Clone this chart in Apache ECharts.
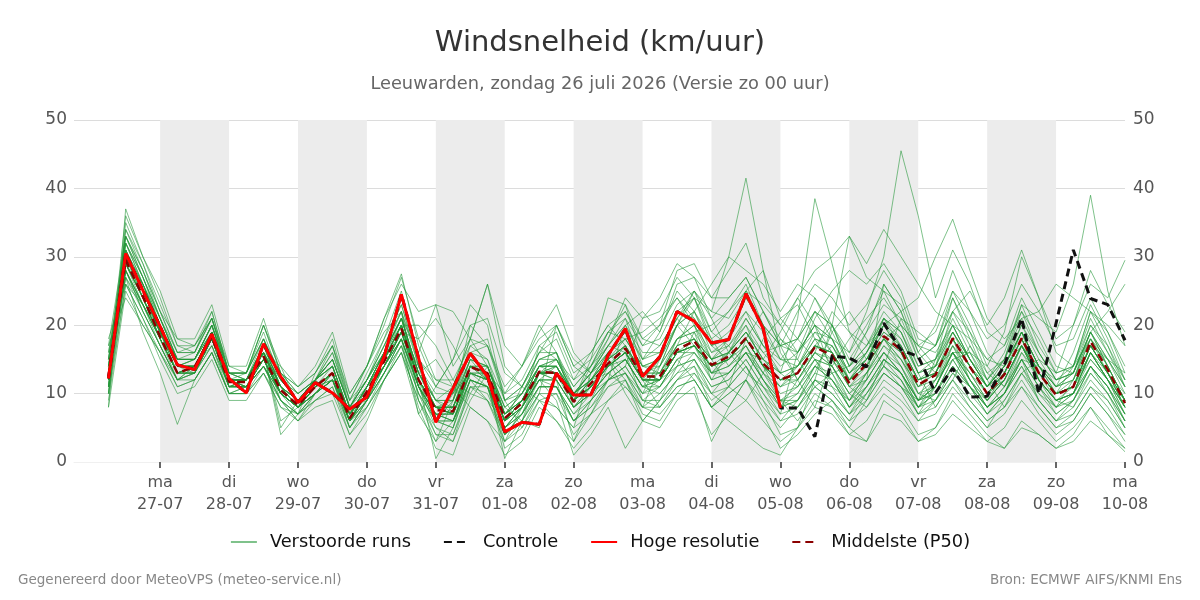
<!DOCTYPE html>
<html><head><meta charset="utf-8">
<script src="https://cdn.jsdelivr.net/npm/echarts@6/dist/echarts.min.js"></script>
<style>html,body{margin:0;padding:0;background:#fff}#c{width:1200px;height:600px}</style>
</head><body><div id="c"></div>
<script>
// Time axis: hours relative to ma 27-07 00:00, 6-hourly from zo 26-07 06:00
const startHour = -18, stepHours = 6, nPoints = 60;
const dayLabels = ['ma','di','wo','do','vr','za','zo','ma','di','wo','do','vr','za','zo','ma'];
const dateLabels = ['27-07','28-07','29-07','30-07','31-07','01-08','02-08','03-08','04-08','05-08','06-08','07-08','08-08','09-08','10-08'];
const shadedDays = [0, 2, 4, 6, 8, 10, 12]; // day index of grey bands

const hogeResolutie = [12.2,30.5,25.1,19.8,14.2,13.5,18.7,12.2,10.1,17.3,
 12.5,8.7,11.6,10.1,7.7,9.5,15.4,24.5,15.2,5.8,
 10.8,15.9,12.5,4.4,5.8,5.5,13.0,9.8,9.8,15.6,
 19.5,12.5,15.4,22.0,20.6,17.4,17.9,24.6,19.5,7.9];

const controle = [12.2,30.5,25.1,19.8,14.2,13.5,18.7,12.2,10.1,17.3,
 12.5,8.7,11.6,10.1,7.7,9.5,15.4,24.5,15.2,5.8,
 10.8,15.9,12.5,4.4,5.8,5.5,13.0,9.8,9.8,15.6,
 19.5,12.5,15.4,22.0,20.6,17.4,17.9,24.6,19.5,7.9,
 7.9,3.7,15.5,15.2,13.9,20.3,16.4,15.4,10.1,13.7,
 9.5,9.6,14.2,21.0,10.0,20.3,31.0,23.9,23.0,17.8];

const middelste = [12.5,29.5,24.2,18.3,13.0,13.9,18.3,11.7,11.7,15.4,
 10.5,8.3,11.0,13.0,6.4,10.3,14.7,19.5,12.0,7.6,
 7.4,13.9,13.0,6.4,8.6,13.2,13.0,8.8,11.5,14.4,
 16.6,12.5,12.5,16.4,17.7,14.2,15.4,18.1,14.4,12.0,
 13.0,16.8,15.6,11.5,14.4,18.4,16.4,11.3,12.7,18.1,
 13.9,10.0,12.8,18.1,13.0,9.8,11.0,17.6,13.5,8.6];

const run01 = [12,31,26,20,14,13,19,12,10,17, 12,9,12,10,8,9,15,24,15,6, 10,16,12,4,6,5,13,10,10,16, 19,12,15,22,21,17,18,25,20,8, 9,14,17,12,15,20,16,10,12,18, 12,8,11,16,12,9,10,16,12,7];
const run02 = [10,35,29,23,17,16,22,13,13,20, 13,10,12,17,8,13,18,23,14,9, 9,17,18,9,11,16,18,12,14,19, 22,17,18,23,25,21,24,27,22,17, 18,24,20,15,19,26,22,15,17,24, 18,12,15,23,17,13,14,22,17,11];
const run03 = [9,26,21,15,10,11,15,9,9,13, 8,7,9,10,4,7,12,16,9,4, 4,10,9,3,5,9,8,5,7,9, 11,8,8,11,12,8,10,12,9,6, 7,11,9,6,8,12,10,6,7,11, 8,5,7,11,7,4,6,10,7,3];
const run04 = [15,30,24,19,13,14,18,11,12,15, 10,8,10,13,6,11,14,19,11,7, 6,13,12,6,8,13,12,8,11,14, 16,12,13,17,22,26,30,41.5,28,16, 12,16,14,9,13,17,14,9,11,16, 12,8,11,17,12,9,10,16,12,7];
const run05 = [12,28,23,18,13,13,18,12,11,15, 11,8,11,12,7,10,15,20,12,8, 7,14,13,6,9,13,13,9,11,14, 16,13,12,16,18,14,16,19,15,13, 21,38.5,29,19,17,20,16,11,13,18, 14,10,13,18,13,10,11,17,13,9];
const run06 = [13,29,25,19,14,14,19,12,12,16, 10,8,11,13,6,10,14,19,12,8, 7,13,13,6,9,13,13,9,12,15, 17,13,12,17,18,15,16,19,15,12, 14,17,20,16,22,30,45.5,36,24,31, 26,19,17,22,16,12,13,19,14,9];
const run07 = [11,34,28,22,16,17,21,14,13,20, 13,11,13,17,9,14,21,26,22,23, 14,18,26,17,14,18,20,14,16,20, 22,18,17,21,24,19,22,26,20,17, 18,22,20,14,17,22,19,14,15,21, 16,12,15,22,18,13,14,20,16,11];
const run08 = [14,27,22,17,12,14,17,10,11,14, 9,7,10,12,5,9,13,18,10,4, 3,11,11,2,4,9,10,4,7,11, 12,7,6,10,13,9,11,14,9,4, 5,9,8,4,6,10,8,4,5,9, 6,3,5,9,6,3,5,8,5,2];
const run09 = [16,32,27,20,15,15,20,13,12,17, 11,9,12,15,8,12,16,21,13,8, 8,15,14,7,10,14,15,10,13,17, 20,15,16,20,22,17,19,22,19,15, 15,21,25,28,26,29,25,18,17,22, 17,13,15,20,16,12,13,19,15,10];
const run10 = [12,30,25,19,14,14,18,12,12,16, 11,9,12,14,7,11,16,21,13,8, 8,14,14,7,9,14,14,10,13,18, 23,18,20,28,29,24,24,27,22,18, 16,20,18,13,16,21,18,13,14,19, 15,11,14,19,14,11,12,18,14,9];
const run11 = [13,29,24,18,13,14,19,11,12,15, 10,8,11,13,6,10,15,20,12,7, 7,14,13,6,9,13,13,9,12,14, 16,12,12,16,17,14,15,18,14,12, 13,17,16,12,15,19,17,12,13,19, 15,12,16,23,21,19,26,39,25,17];
const run12 = [11,31,26,19,14,15,19,12,11,16, 6,8,10,12,7,10,14,19,18,21, 17,12,9,6,11,16,20,14,12,13, 11,8,14,20,25,19,17,14,10,6, 9,13,19,22,18,14,11,8,12,16, 16,14,19,30,24,18,20,26,24,29.5];
const run13 = [8,25,20,16,11,12,16,10,10,13, 9,6,8,9,2,6,12,17,8,2, 1,8,6,1,3,8,6,2,5,9, 12,6,5,9,11,3,8,12,7,2, 4,7,9,5,3,9,7,3,5,10, 7,4,2,6,4,2,4,8,4,1.5];
const run14 = [17,33,28,22,18,17,21,13,13,19, 12,10,12,16,8,12,17,22,15,11, 15,23,20,9,5,10,20,15,13,15, 12,8,10,13,16,13,15,17,12,9, 11,15,14,18,21,24,20,17,14,16, 11,7,10,16,13,10,14,22,19,13];
const run15 = [12,28,22,17,12,13,17,11,11,14, 10,8,10,12,6,9,14,18,11,6, 6,12,11,5,8,12,12,8,10,13, 15,11,12,14,19,20,22,25,23,20, 24,28,30,33,29,34,30,26,22,20, 18,15,14,17,13,10,11,15,12,8];
const run16 = [13,36,30,24,17,17,22,13,13,20, 14,11,13,17,10,14,20,27,18,12, 11,18,17,9,10,15,16,9,14,19, 18,14,15,20,17,12,16,20,14,9, 10,14,12,8,11,15,13,9,10,14, 11,8,10,15,11,8,9,14,11,7];
const run17 = [12,27,23,18,13,13,18,11,11,15, 10,8,10,12,6,10,14,18,11,7, 6,12,11,5,7,11,11,7,9,12, 13,9,8,11,12,8,10,12,8,5, 8,12,11,9,13,18,20,17,19,25, 22,18,20,26,22,17,18,24,19,14];
const run18 = [14,32,27,21,15,15,20,12,12,17, 11,9,12,14,7,11,15,21,13,9, 11,18,26,14,11,15,16,10,13,16, 18,14,14,18,20,16,17,20,16,13, 14,18,17,13,15,20,18,13,14,19, 15,11,14,19,14,11,12,18,14,9];
const run19 = [10,28,23,17,12,13,17,11,11,14, 10,7,10,12,5,9,13,18,11,6, 5,12,11,4,7,11,11,6,9,12, 13,8,7,10,10,4,7,9,6,3, 5,8,7,4,3,7,6,3,4,7, 5,3,2,5,4,2,3,6,4,2];
const run20 = [13,30,25,19,14,14,19,12,12,16, 4,7,13,18,9,14,19,22,9,3, 9,20,21,13,11,9,6,3,7,12, 20,22,19,26,27,21,16,13,11,9, 6,10,8,5,9,15,12,7,11,17, 14,11,15,21,22,26,24,22,20,17];
const run21 = [8,37,30,25,18,18,23,14,14,21, 13,11,14,19,10,14,21,27.5,17,11, 10,16,15,7,9,14,15,10,12,16, 18,19,21,24,20,13,13,16,13,9, 8,11,13,14,19,23,21,15,17,22, 19,13,11,15,14,12,14,21,16,12];
const run22 = [14,29,23,18,12,13,18,12,11,15, 10,8,11,12,6,10,14,18,11,7, 6,13,12,5,8,13,14,9,15,24, 23,15,19,25,22,16,18,22,17,15, 18,22,20,14,17,21,17,12,14,20, 15,11,14,19,14,10,11,17,13,9];
const run23 = [11,27,19,13,5.5,12,16,10,11,14, 10,8,10,12,6,8,12,16,7,11, 15,20,17,11,14,19,23,16,13,17, 21,17,20,24,21,15,11,9,13,18, 15,11,9,6,10,14,21,19,17,25, 20,14,11,15,9,6,9,14,10,5];
const run24 = [12,29,24,18,13,14,18,11,12,16, 10,8,11,13,6,11,15,20,12,0.5, 5,14,12,0.5,6,13,12,3,9,14, 16,12,11,15,17,14,15,18,14,11, 12,15,14,10,13,17,15,11,12,17, 13,9,12,17,12,9,10,16,12,8];
const run25 = [13,31,25,19,14,14,19,12,12,16, 11,9,12,14,7,11,16,21,16,23, 22,18,14,8,10,14,14,10,12,15, 17,13,13,17,18,15,16,19,15,13, 14,17,16,12,15,19,17,12,13,18, 14,10,13,18,13,10,11,17,13,9];
const run26 = [12,30,25,19,14,14,19,12,12,16, 11,8,11,13,7,10,15,20,12,8, 7,14,13,6,9,13,14,9,12,15, 18,14,15,20,24,22,30,28,26,22, 26,24,19,14,16,20,17,12,13,18, 14,10,13,18,13,10,11,17,13,9];
const run27 = [14,28,23,18,13,14,18,11,11,15, 10,8,10,12,6,10,14,19,11,7, 7,13,12,6,8,12,12,8,10,13, 15,11,10,13,14,8,6,4,2,1, 5,12,20,33,27,25,20,14,15,19, 14,10,12,17,12,9,10,15,12,8];
const run28 = [15,30,26,20,15,15,20,13,12,16, 5,9,11,13,7,10,14,19,13,15, 11,8,6,3,8,17,15,12,16,20, 17,12,8,12,15,11,12,15,11,7, 16,20,13,8,12,26,22,16,20,28, 22,16,13,18,12,8,10,14,11,6];
const run29 = [12,29,24,18,13,14,19,12,11,15, 10,8,11,13,6,10,14,19,12,8, 7,13,13,6,8,13,13,9,11,14, 16,12,12,16,17,14,15,18,14,12, 13,17,16,12,14,18,16,11,14,22, 25,20,24,31,24,16,14,18,13,8];
const run30 = [13,33,28,21,16,16,21,13,13,18, 12,10,12,15,8,12,17,22,14,9, 9,15,14,8,10,15,15,10,13,16, 13,10,15,22,24,18,14,16,15,19, 24,20,16,11,9,13,11,9,15,24, 19,15,17,24,19,14,13,18,15,11];
const run31 = [17,24,20,16,12,12,16,10,10,14, 9,7,10,12,6,9,13,17,10,6, 6,12,11,5,7,11,11,7,10,13, 15,11,14,20,22,18,20,24,20,17, 16,19,16,11,12,16,13,9,10,14, 11,8,10,14,10,7,9,13,10,6];
const run32 = [13,32,26,21,15,16,21,12,13,18, 12,9,12,15,8,12,16,22,11,5, 3,9,13,10,14,20,16,8,10,12, 14,21,24,29,27,24,28,32,24,20, 16,22,18,12,14,18,14,9,11,16, 13,9,12,17,14,11,16,23,18,12];
const run33 = [11,30,25,19,14,14,19,12,12,16, 11,8,11,13,7,11,15,20,12,8, 8,14,13,7,9,13,13,9,11,14, 16,12,12,16,17,14,15,18,14,12, 13,16,15,12,16,20,22,24,30,35.5, 28,21,18,21,16,12,13,19,14,9];
const run34 = [10,26,21,16,11,12,16,10,10,13, 8,6,9,11,4,8,12,16,9,5, 4,11,10,4,6,10,10,6,8,11, 13,9,9,12,13,10,11,14,10,7, 8,12,10,7,9,13,11,7,8,12, 9,6,8,12,8,5,7,11,8,4];
const run35 = [15,33,27,21,15,15,20,13,13,18, 12,9,12,15,8,12,17,23,15,12, 12,17,15,9,11,16,16,11,14,17, 20,16,16,21,25,22,21,25,28,21, 18,15,11,7,11,14,12,8,10,15, 16,11,14,19,12,9,8,12,9,5];
const run36 = [12,28,23,18,13,13,18,11,11,15, 10,8,10,13,6,10,14,19,11,7, 7,13,12,6,8,12,9,1,4,8, 2,6,9,14,15,10,13,16,12,8, 9,13,12,8,11,15,13,8,10,15, 11,7,10,15,11,7,9,14,11,6];
const run37 = [13,31,25,19,14,14,19,12,12,16, 10,8,11,13,6,10,15,20,12,8, 8,14,13,7,9,13,13,9,11,15, 17,13,13,17,18,15,16,19,16,17, 22,26,24,20,23,28,24,17,16,20, 15,11,13,18,13,10,11,16,13,8];
const run38 = [12,29,24,18,13,14,18,12,12,16, 14,8,11,13,7,10,15,20,20,17, 12,10,14,8,6,10,8,5,13,17, 16,9,11,15,12,8,11,18,22,17, 12,8,15,11,14,21,19,13,8,12, 8,5,9,13,15,13,20,28,23,19];
const run39 = [14,30,25,19,14,14,19,12,12,16, 10,8,11,13,7,10,15,20,12,8, 7,14,13,6,9,13,13,9,11,14, 16,12,12,16,17,14,15,18,14,12, 12,16,14,10,12,16,13,8,9,14, 9,6,8,13,10,8,12,19,22,26];
const run40 = [11,30,26,20,14,15,20,12,12,17, 11,9,12,14,7,11,16,21,13,8, 8,15,14,7,9,14,14,10,12,15, 10,6,9,12,14,10,8,12,18,21, 23,18,14,10,8,11,9,6,9,12, 17,12,8,11,8,5,6,10,7,4];
const run41 = [18,26,23,19,15,15,19,12,12,16, 9,6,10,13,5,8,13,18,7,3, 6,11,9,4,7,12,11,6,8,12, 14,10,12,18,20,15,18,24,20,15, 14,19,18,16,20,25,23,16,13,17, 12,8,10,14,9,6,8,13,10,6];
const run42 = [12,34,29,22,16,16,21,13,12,18, 13,10,12,16,9,12,18,25,14,6, 9,16,17,10,12,17,19,13,15,19, 21,14,13,18,19,12,13,16,12,8, 10,14,12,9,12,16,14,10,9,13, 10,7,9,13,9,6,7,11,9,5];
const run43 = [14,31,25,19,13,13,18,11,11,14, 9,7,9,11,5,9,13,17,10,6, 8,14,12,5,8,12,14,10,12,16, 19,15,17,21,18,13,16,21,17,13, 11,15,12,8,10,14,12,8,11,16, 12,9,13,18,13,9,10,16,12,9];
const run44 = [13,28,22,17,12,14,18,12,12,16, 10,8,11,13,6,10,15,19,14,10, 10,13,11,5,7,13,15,11,14,18, 24,21,22,27,24,17,15,18,14,11, 13,17,15,11,13,16,13,9,12,15, 11,8,10,15,11,8,10,14,11,7];
const run45 = [12,33,27,21,15,15,20,12,12,17, 11,8,11,14,7,11,16,21,13,9, 7,13,12,6,8,12,12,8,11,14, 15,11,12,16,16,12,13,16,12,9, 9,12,10,7,10,13,11,7,9,13, 11,9,12,17,13,10,12,17,15,13];
const run46 = [11,30,25,19,13,14,19,12,12,16, 12,9,12,15,8,11,16,21,12,6, 5,12,11,3,6,11,11,6,9,12, 14,10,11,14,15,11,12,15,11,8, 12,16,22,19,15,18,15,10,11,16, 13,10,13,19,14,11,13,19,15,11];
const run47 = [15,32,26,20,14,14,18,12,11,15, 10,8,11,13,6,9,14,18,11,8, 9,15,12,6,9,14,13,8,10,13, 15,11,11,15,16,13,14,17,13,11, 14,18,17,13,16,21,19,13,15,20, 15,11,14,19,14,10,11,17,13,8];
const run48 = [10,29,24,18,13,14,18,11,12,16, 12,9,11,13,7,11,16,20,13,9, 8,14,14,7,10,14,14,9,11,14, 17,13,14,18,19,15,17,21,17,14, 16,20,18,13,15,18,15,11,13,18, 14,11,14,20,15,11,13,20,17,12];
const run49 = [16,29,24,19,14,15,19,12,12,16, 11,9,12,14,7,10,15,19,12,8, 7,14,13,6,9,13,13,9,12,15, 17,12,12,16,17,13,14,17,13,10, 11,14,13,9,11,15,13,9,11,16, 12,9,12,17,12,9,11,17,13,10];
const run50 = [12,30,24,18,13,13,18,12,12,16, 11,8,11,13,7,10,15,20,12,8, 8,14,13,7,9,13,13,9,11,14, 16,12,12,16,17,14,15,18,14,12, 13,17,16,12,14,18,16,12,13,18, 14,10,12,17,13,10,11,16,12,8];

const verstoordeRuns = [run01,run02,run03,run04,run05,run06,run07,run08,run09,run10,
 run11,run12,run13,run14,run15,run16,run17,run18,run19,run20,
 run21,run22,run23,run24,run25,run26,run27,run28,run29,run30,
 run31,run32,run33,run34,run35,run36,run37,run38,run39,run40,
 run41,run42,run43,run44,run45,run46,run47,run48,run49,run50];

const hours = [];
for (let i = 0; i < nPoints; i++) hours.push(startHour + i * stepHours);
const pair = arr => arr.map((v, i) => [hours[i], v]);
const dayTicks = dateLabels.map((d, i) => i * 24);

const FONT = 'DejaVu Sans';
const GREEN = 'rgba(35,150,55,0.58)';
const series = [];
verstoordeRuns.forEach((r, k) => {
  series.push({
    name: 'Verstoorde runs', type: 'line', data: pair(r), symbol: 'none', silent: true,
    lineStyle: {color: GREEN, width: 1}, itemStyle: {color: GREEN},
    z: 2,
    markArea: k === 0 ? {
      silent: true, itemStyle: {color: '#ececec'},
      data: shadedDays.map(d => [{xAxis: d * 24}, {xAxis: (d + 1) * 24}])
    } : undefined
  });
});
series.push({name: 'Middelste (P50)', type: 'line', data: pair(middelste), symbol: 'none', z: 3,
  lineStyle: {color: '#8b0000', width: 2.5, type: [8, 5]}, itemStyle: {color: '#8b0000'}});
series.push({name: 'Controle', type: 'line', data: pair(controle), symbol: 'none', z: 4,
  lineStyle: {color: '#111', width: 3, type: [8, 5]}, itemStyle: {color: '#111'}});
series.push({name: 'Hoge resolutie', type: 'line', data: pair(hogeResolutie), symbol: 'none', z: 5,
  lineStyle: {color: '#ff0000', width: 3}, itemStyle: {color: '#ff0000'}});

const yAxisCommon = {
  type: 'value', min: 0, max: 50, interval: 10,
  axisLine: {show: false}, axisTick: {show: false},
  axisLabel: {fontFamily: FONT, fontSize: 17, color: '#555', margin: 8},
  splitLine: {lineStyle: {color: '#dcdcdc', width: 1}}
};

const chart = echarts.init(document.getElementById('c'), null, {renderer: 'canvas'});
chart.setOption({
  animation: false,
  backgroundColor: '#fff',
  title: {
    text: 'Windsnelheid (km/uur)',
    subtext: 'Leeuwarden, zondag 26 juli 2026 (Versie zo 00 uur)',
    left: 'center', top: 24, itemGap: 17,
    textStyle: {fontFamily: FONT, fontSize: 29, fontWeight: 'normal', color: '#333'},
    subtextStyle: {fontFamily: FONT, fontSize: 17.8, color: '#666'}
  },
  legend: {
    bottom: 44, left: 'center', itemWidth: 26, itemHeight: 12, itemGap: 32,
    itemStyle: {opacity: 0},
    textStyle: {fontFamily: FONT, fontSize: 17.8, color: '#111', padding: [0, 0, 0, 8]},
    data: ['Verstoorde runs', 'Controle', 'Hoge resolutie', 'Middelste (P50)']
  },
  grid: {left: 74, right: 75, top: 120, bottom: 138, containLabel: false},
  xAxis: {
    type: 'value', min: -30, max: 336,
    axisLine: {show: true, lineStyle: {color: '#f0f0f0'}},
    axisTick: {show: true, customValues: dayTicks, length: 6, lineStyle: {color: '#666', width: 2}},
    axisLabel: {
      customValues: dayTicks, fontFamily: FONT, fontSize: 16, color: '#555', lineHeight: 22, margin: 10,
      formatter: v => { const i = Math.round(v / 24); return dayLabels[i] + '\n' + dateLabels[i]; }
    },
    splitLine: {show: false}
  },
  yAxis: [
    Object.assign({}, yAxisCommon, {position: 'left', axisLabel: Object.assign({}, yAxisCommon.axisLabel, {margin: 7})}),
    Object.assign({}, yAxisCommon, {position: 'right', splitLine: {show: false}})
  ],
  graphic: [
    {type: 'text', left: 18, top: 573, style: {text: 'Gegenereerd door MeteoVPS (meteo-service.nl)', fontFamily: FONT, fontSize: 13.5, fill: '#888'}},
    {type: 'text', right: 18, top: 573, style: {text: 'Bron: ECMWF AIFS/KNMI Ens', fontFamily: FONT, fontSize: 13.5, fill: '#888'}}
  ],
  series: series
});
</script></body></html>
